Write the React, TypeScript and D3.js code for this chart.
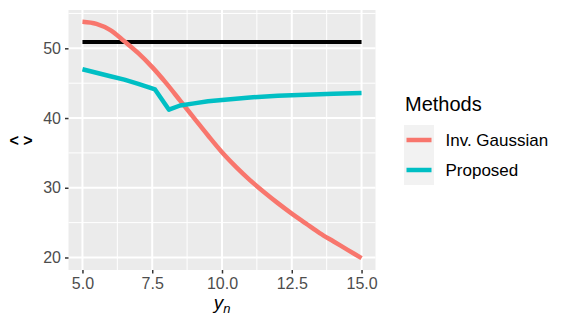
import React, { useEffect, useRef } from 'react';
import * as d3 from 'd3';

// series values
const invGaussX = [5, 5.5, 6, 6.5, 7, 7.5, 8, 8.5, 9, 9.5, 10, 10.5, 11, 11.5, 12, 12.5, 13, 13.5, 14, 14.5, 15];
const invGaussY = [53.8, 53.5, 52.6, 51.0, 49.3, 47.3, 45.0, 42.5, 40.0, 37.5, 35.1, 33.0, 31.1, 29.4, 27.8, 26.3, 24.9, 23.5, 22.3, 21.1, 19.9];

const proposedX = [5, 5.5, 6, 6.5, 7, 7.6, 8.1, 8.5, 9, 9.5, 10, 11, 12, 13, 14, 15];
const proposedY = [47.0, 46.5, 46.0, 45.5, 44.9, 44.1, 41.2, 41.8, 42.1, 42.4, 42.6, 42.95, 43.2, 43.35, 43.5, 43.6];

const refX = [5, 15];
const refY = [50.9, 50.9];

const xTicks = [5, 7.5, 10, 12.5, 15];
const yTicks = [20, 30, 40, 50];
const methods = ['Inv. Gaussian', 'Proposed'];
const methodColors = ['#F8766D', '#00BFC4'];

const App = () => {
  const ref = useRef<SVGSVGElement>(null);

  useEffect(() => {
    const svg = d3.select(ref.current);
    svg.selectAll('*').remove();

    const width = 565;
    const height = 328;
    const panel = { left: 68.5, right: 375.5, top: 10, bottom: 270 };
    const font = '"Liberation Sans", Arial, sans-serif';

    // ggplot style 5% expansion
    const allX = [...invGaussX, ...proposedX, ...refX];
    const allY = [...invGaussY, ...proposedY, ...refY];
    const [x0, x1] = d3.extent(allX) as [number, number];
    const [y0, y1] = d3.extent(allY) as [number, number];
    const dx = (x1 - x0) * 0.05;
    const dy = (y1 - y0) * 0.05;

    const x = d3.scaleLinear().domain([x0 - dx, x1 + dx]).range([panel.left, panel.right]);
    const y = d3.scaleLinear().domain([y0 - dy, y1 + dy]).range([panel.bottom, panel.top]);

    svg.attr('width', width).attr('height', height).attr('viewBox', [0, 0, width, height]);

    svg.append('rect')
      .attr('width', width).attr('height', height).attr('fill', 'white');

    // panel background
    svg.append('rect')
      .attr('x', panel.left).attr('y', panel.top)
      .attr('width', panel.right - panel.left).attr('height', panel.bottom - panel.top)
      .attr('fill', '#EBEBEB');

    // minor grid
    const xMinor = [6.25, 8.75, 11.25, 13.75];
    const yMinor = [25, 35, 45, 55];
    const grid = svg.append('g');
    xMinor.forEach((v) => {
      grid.append('line')
        .attr('x1', x(v)).attr('x2', x(v)).attr('y1', panel.top).attr('y2', panel.bottom)
        .attr('stroke', 'white').attr('stroke-width', 1);
    });
    yMinor.forEach((v) => {
      grid.append('line')
        .attr('x1', panel.left).attr('x2', panel.right).attr('y1', y(v)).attr('y2', y(v))
        .attr('stroke', 'white').attr('stroke-width', 1);
    });
    // major grid
    xTicks.forEach((v) => {
      grid.append('line')
        .attr('x1', x(v)).attr('x2', x(v)).attr('y1', panel.top).attr('y2', panel.bottom)
        .attr('stroke', 'white').attr('stroke-width', 2);
    });
    yTicks.forEach((v) => {
      grid.append('line')
        .attr('x1', panel.left).attr('x2', panel.right).attr('y1', y(v)).attr('y2', y(v))
        .attr('stroke', 'white').attr('stroke-width', 2);
    });

    const line = d3.line<[number, number]>().x((d) => x(d[0])).y((d) => y(d[1]));

    // reference line
    svg.append('path')
      .datum(d3.zip(refX, refY) as [number, number][])
      .attr('fill', 'none').attr('stroke', 'black').attr('stroke-width', 4)
      .attr('d', line);

    svg.append('path')
      .datum(d3.zip(invGaussX, invGaussY) as [number, number][])
      .attr('fill', 'none').attr('stroke', methodColors[0]).attr('stroke-width', 4.5)
      .attr('stroke-linejoin', 'round')
      .attr('d', line.curve(d3.curveMonotoneX));

    svg.append('path')
      .datum(d3.zip(proposedX, proposedY) as [number, number][])
      .attr('fill', 'none').attr('stroke', methodColors[1]).attr('stroke-width', 4.5)
      .attr('stroke-linejoin', 'round')
      .attr('d', line.curve(d3.curveLinear));

    // x axis
    const xAxis = svg.append('g')
      .attr('transform', `translate(0,${panel.bottom})`)
      .call(d3.axisBottom(x).tickValues(xTicks).tickFormat(d3.format('.1f')).tickSize(3.5).tickPadding(4));
    xAxis.select('.domain').remove();
    xAxis.selectAll('.tick line').attr('stroke', '#333333').attr('stroke-width', 1.5);
    xAxis.selectAll('text').attr('fill', '#4D4D4D').style('font', `16px ${font}`);

    // y axis
    const yAxis = svg.append('g')
      .attr('transform', `translate(${panel.left},0)`)
      .call(d3.axisLeft(y).tickValues(yTicks).tickSize(3.5).tickPadding(4));
    yAxis.select('.domain').remove();
    yAxis.selectAll('.tick line').attr('stroke', '#333333').attr('stroke-width', 1.5);
    yAxis.selectAll('text').attr('fill', '#4D4D4D').style('font', `16px ${font}`);

    // axis titles
    const xt = svg.append('text')
      .attr('x', (panel.left + panel.right) / 2)
      .attr('y', 309)
      .attr('text-anchor', 'middle')
      .style('font', `italic 19px ${font}`)
      .attr('fill', 'black');
    xt.append('tspan').text('y');
    xt.append('tspan').attr('dy', 4).style('font-size', '13px').text('n');

    svg.append('text')
      .attr('x', 21)
      .attr('y', 146)
      .attr('text-anchor', 'middle')
      .style('font', `bold 16px ${font}`)
      .attr('fill', 'black')
      .text('< >');

    // legend
    const legend = svg.append('g').attr('transform', 'translate(405,0)');
    legend.append('text')
      .attr('x', 0).attr('y', 110.7)
      .style('font', `20px ${font}`)
      .attr('fill', 'black')
      .text('Methods');

    methods.forEach((m, i) => {
      const top = 125 + i * 30;
      legend.append('rect')
        .attr('x', -1).attr('y', top).attr('width', 30).attr('height', 30)
        .attr('fill', '#F2F2F2');
      legend.append('line')
        .attr('x1', 1.5).attr('x2', 26.5).attr('y1', top + 15).attr('y2', top + 15)
        .attr('stroke', methodColors[i]).attr('stroke-width', 4.5);
      legend.append('text')
        .attr('x', 40.5).attr('y', top + 15)
        .attr('dy', '0.36em')
        .style('font', `17px ${font}`)
        .attr('fill', 'black')
        .text(m);
    });
  }, []);

  return <svg ref={ref} style={{ position: 'absolute', left: 0, top: 0, display: 'block' }} />;
};

export default App;
